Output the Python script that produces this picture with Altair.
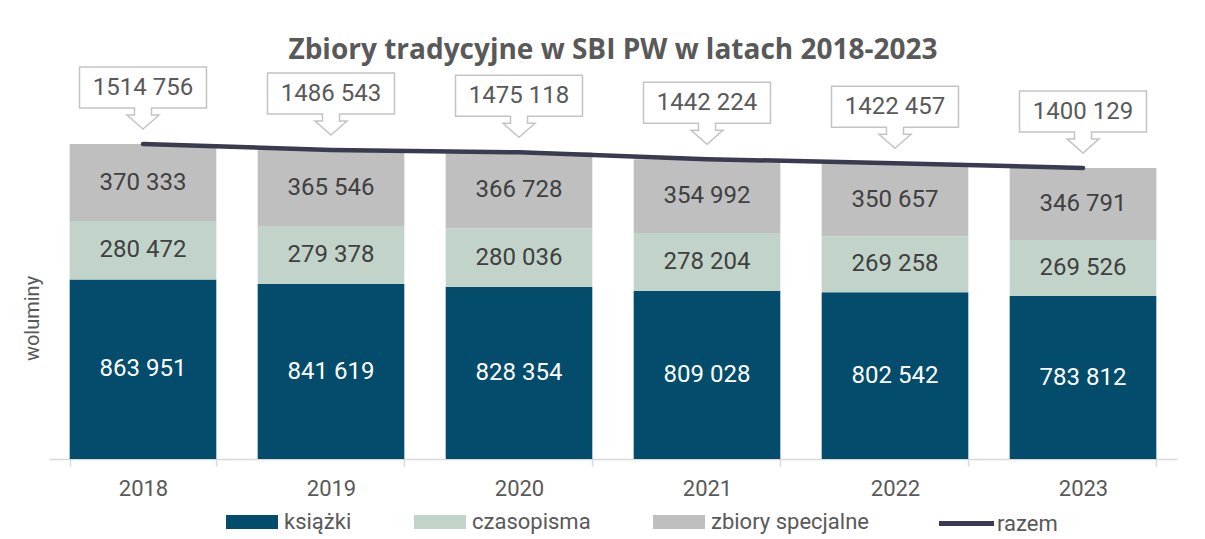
import altair as alt
import pandas as pd

years = ["2018", "2019", "2020", "2021", "2022", "2023"]
ksiazki = [863951, 841619, 828354, 809028, 802542, 783812]
czasopisma = [280472, 279378, 280036, 278204, 269258, 269526]
specjalne = [370333, 365546, 366728, 354992, 350657, 346791]
razem = [1514756, 1486543, 1475118, 1442224, 1422457, 1400129]
categories = ["książki", "czasopisma", "zbiory specjalne"]
cat_colors = ["#034c6c", "#c2d4c9", "#bfbfbf"]
line_name = "razem"
line_color = "#3a3a50"
title_text = "Zbiory tradycyjne w SBI PW w latach 2018-2023"
y_title = "woluminy"


def fmt(v):
    return f"{v // 1000} {v % 1000:03d}"


rows = []
for i, y in enumerate(years):
    for k, (cat, vals) in enumerate(zip(categories, [ksiazki, czasopisma, specjalne])):
        rows.append({"year": y, "cat": cat, "order": k, "value": vals[i], "label": fmt(vals[i])})
df = pd.DataFrame(rows)

tot = pd.DataFrame({"year": years, "total": razem, "tlabel": [fmt(v) for v in razem], "s": [line_name] * len(years)})

FONT = "Roboto"
GRAY = "#595959"

xenc = alt.X(
    "year:N",
    title=None,
    scale=alt.Scale(paddingInner=0.22, paddingOuter=0.11),
    axis=alt.Axis(
        labelAngle=0, tickBand="extent", domainColor="#d9d9d9", domainWidth=1.5,
        tickColor="#d9d9d9", tickWidth=1.5, tickSize=7, labelFontSize=22,
        labelColor=GRAY, labelPadding=12, labelFont=FONT,
    ),
)
yscale = alt.Scale(domain=[0, 1900000], nice=False, zero=True)
yaxis = alt.Axis(labels=False, ticks=False, domain=False, grid=False, titleFontSize=20,
                 titleColor=GRAY, titleFontWeight="normal", titlePadding=7, titleFont=FONT,
                 titleY=254)

rect_path = "M-2.6,-0.7H2.6V0.7H-2.6Z"

bars = alt.Chart(df).mark_bar().encode(
    x=xenc,
    y=alt.Y("value:Q", stack="zero", scale=yscale, axis=yaxis, title=y_title),
    color=alt.Color(
        "cat:N",
        scale=alt.Scale(domain=categories, range=cat_colors),
        legend=alt.Legend(
            orient="none", legendX=192, legendY=447, direction="horizontal", title=None,
            symbolType=rect_path, symbolSize=400, symbolStrokeWidth=0, symbolOpacity=1,
            labelFontSize=22, labelColor=GRAY, labelFont=FONT, labelOffset=21, columnPadding=62,
        ),
    ),
    order=alt.Order("order:Q", sort="ascending"),
)

seg_text = alt.Chart(df).transform_stack(
    stack="value", groupby=["year"], as_=["v0", "v1"],
    sort=[alt.SortField("order", order="ascending")],
).transform_calculate(mid="(datum.v0 + datum.v1) / 2").mark_text(
    fontSize=24, font=FONT
).encode(
    x=xenc,
    y=alt.Y("mid:Q", scale=yscale, axis=yaxis, title=y_title),
    text="label:N",
    color=alt.condition(alt.datum.cat == "książki", alt.value("white"), alt.value("#404040")),
)

line = alt.Chart(tot).mark_line(strokeWidth=4.5, strokeCap="round").encode(
    x=xenc,
    y=alt.Y("total:Q", scale=yscale, axis=yaxis, title=y_title),
    stroke=alt.Stroke(
        "s:N",
        scale=alt.Scale(domain=[line_name], range=[line_color]),
        legend=alt.Legend(
            orient="none", legendX=905, legendY=447, direction="horizontal", title=None,
            symbolType="M-2.75,0H2.75", symbolSize=400, symbolStrokeWidth=5,
            labelFontSize=22, labelColor=GRAY, labelFont=FONT, labelOffset=18,
        ),
    ),
)

callout_path = ("M-0.992,-1.203 L0.992,-1.203 L0.992,-0.5625 L0.133,-0.5625 L0.133,-0.453 "
                "L0.25,-0.453 L0,-0.234 L-0.25,-0.453 L-0.133,-0.453 L-0.133,-0.5625 "
                "L-0.992,-0.5625 Z")

callouts = alt.Chart(tot).mark_point(
    shape=callout_path, size=16384, filled=True, fill="white", stroke="#c4c4c4",
    strokeWidth=1.5, opacity=1,
).encode(x=xenc, y=alt.Y("total:Q", scale=yscale, axis=yaxis, title=y_title))

callout_text = alt.Chart(tot).mark_text(dy=-56, fontSize=24, color=GRAY, font=FONT).encode(
    x=xenc, y=alt.Y("total:Q", scale=yscale, axis=yaxis, title=y_title), text="tlabel:N"
)

chart = alt.layer(bars, seg_text, line, callouts, callout_text).properties(
    width=1128,
    height=395,
    autosize=alt.AutoSizeParams(type="none"),
    padding={"left": 41, "top": 56, "right": 16, "bottom": 75},
    title=alt.TitleParams(
        title_text, fontSize=28, fontWeight="bold", color=GRAY, font="Open Sans",
        anchor="middle", baseline="alphabetic", offset=0, dy=23,
    ),
).configure(font=FONT).configure_view(stroke=None).configure_axisY(
    titleFontSize=20, titleColor=GRAY, titleFontWeight="normal", titleFont=FONT,
    titlePadding=7, titleY=254,
)

chart.save("out.html", embed_options={"renderer": "svg", "actions": False})
